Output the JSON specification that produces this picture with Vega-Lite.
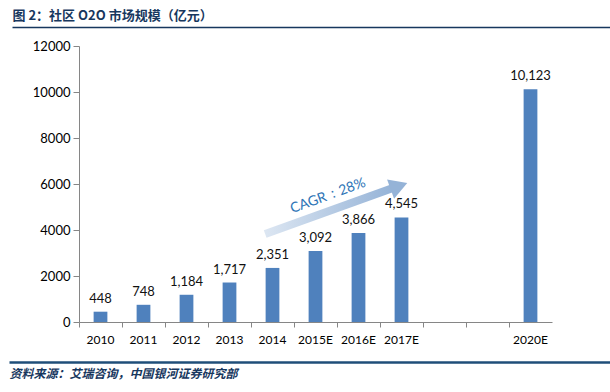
{
  "$schema": "https://vega.github.io/schema/vega-lite/v6.json",
  "width": 473,
  "height": 276,
  "autosize": {"type": "none"},
  "padding": {"left": 79, "top": 46, "right": 58, "bottom": 70},
  "background": "white",
  "config": {"view": {"stroke": null}, "font": "Lato"},
  "datasets": {
    "bars": [
      {"cat": "2010", "v": 448},
      {"cat": "2011", "v": 748},
      {"cat": "2012", "v": 1184},
      {"cat": "2013", "v": 1717},
      {"cat": "2014", "v": 2351},
      {"cat": "2015E", "v": 3092},
      {"cat": "2016E", "v": 3866},
      {"cat": "2017E", "v": 4545},
      {"cat": "2020E", "v": 10123}
    ],
    "arrow": [{"cat": "2014", "cat2": "2017E", "y1": 3830, "y2": 5830}],
    "head": [{"cat": "2017E", "v": 5910}],
    "note": [{"cat": "2015E", "v": 5480, "t": "CAGR：28%"}],
    "frame": [{"d": 0}, {"d": 1}]
  },
  "layer": [
    {
      "layer": [
        {
          "data": {"name": "bars"},
          "mark": {"type": "bar", "color": "#4F81BD", "width": {"band": 0.32}},
          "encoding": {
            "x": {
              "field": "cat", "type": "nominal",
              "scale": {"domain": ["2010", "2011", "2012", "2013", "2014", "2015E", "2016E", "2017E", "g1", "g2", "2020E"], "paddingInner": 0, "paddingOuter": 0},
              "axis": {"orient": "bottom", "title": null, "bandPosition": 0, "labelExpr": "indexof(datum.label, 'g') == 0 ? '' : datum.label", "labelAngle": 0, "tickSize": 5, "labelPadding": 7, "domainColor": "#868686", "tickColor": "#868686", "labelFont": "Lato", "labelFontSize": 12, "labelColor": "#000000"}
            },
            "y": {
              "field": "v", "type": "quantitative",
              "scale": {"domain": [0, 12000], "nice": false},
              "axis": {"title": null, "values": [0, 2000, 4000, 6000, 8000, 10000, 12000], "format": "d", "grid": false, "tickSize": 6, "labelPadding": 3, "domainColor": "#868686", "tickColor": "#868686", "labelFont": "Lato", "labelFontSize": 13, "labelColor": "#000000"}
            }
          }
        },
        {
          "data": {"name": "bars"},
          "mark": {"type": "text", "baseline": "bottom", "dy": -6, "fontSize": 13, "font": "Lato", "color": "#111111"},
          "encoding": {
            "x": {"field": "cat", "type": "nominal"},
            "y": {"field": "v", "type": "quantitative"},
            "text": {"field": "v", "type": "quantitative", "format": ","}
          }
        },
        {
          "data": {"name": "arrow"},
          "mark": {"type": "rule", "strokeWidth": 8, "strokeCap": "butt", "color": {"gradient": "linear", "x1": 0, "y1": 0, "x2": 1, "y2": 0, "stops": [{"offset": 0, "color": "#DCE6F2"}, {"offset": 1, "color": "#95B3D7"}]}},
          "encoding": {
            "x": {"field": "cat", "type": "nominal", "bandPosition": 0.33},
            "x2": {"field": "cat2", "bandPosition": 0.3},
            "y": {"field": "y1", "type": "quantitative"},
            "y2": {"field": "y2"}
          }
        },
        {
          "data": {"name": "head"},
          "mark": {"type": "point", "shape": "triangle-right", "filled": true, "size": 420, "opacity": 1, "color": "#95B3D7", "angle": -20},
          "encoding": {
            "x": {"field": "cat", "type": "nominal", "bandPosition": 0.44},
            "y": {"field": "v", "type": "quantitative"}
          }
        },
        {
          "data": {"name": "note"},
          "mark": {"type": "text", "angle": -20, "fontSize": 14, "font": "Lato", "color": "#2E75B6", "align": "center", "baseline": "middle"},
          "encoding": {
            "x": {"field": "cat", "type": "nominal", "bandPosition": 0.79},
            "y": {"field": "v", "type": "quantitative"},
            "text": {"field": "t", "type": "nominal"}
          }
        }
      ]
    },
    {
      "data": {"name": "frame"},
      "mark": {"type": "point", "opacity": 0},
      "encoding": {
        "x": {
          "field": "d", "type": "quantitative",
          "scale": {"domain": [0, 1], "range": [-67, 531], "nice": false, "zero": false},
          "axis": {"orient": "top", "offset": 19, "ticks": false, "labels": false, "grid": false, "domainColor": "#17375E", "domainWidth": 1.5, "title": "图 2：社区 O2O 市场规模（亿元）", "titleAnchor": "start", "titleAlign": "left", "titleFont": "Noto Sans CJK SC", "titleFontSize": 13, "titleFontWeight": "bold", "titleColor": "#17375E", "titlePadding": 5}
        }
      }
    },
    {
      "data": {"name": "frame"},
      "mark": {"type": "point", "opacity": 0},
      "encoding": {
        "x": {
          "field": "d", "type": "quantitative",
          "scale": {"domain": [0, 1], "range": [-70, 531], "nice": false, "zero": false},
          "axis": {"orient": "bottom", "offset": 40, "ticks": false, "labels": false, "grid": false, "domainColor": "#1F4E79", "domainWidth": 2.5, "title": "资料来源：艾瑞咨询，中国银河证券研究部", "titleAnchor": "start", "titleAlign": "left", "titleFont": "Noto Sans CJK SC", "titleFontSize": 12, "titleFontWeight": "bold", "titleFontStyle": "italic", "titleColor": "#17375E", "titlePadding": 6}
        }
      }
    }
  ],
  "resolve": {"scale": {"x": "independent"}, "axis": {"x": "independent"}}
}
